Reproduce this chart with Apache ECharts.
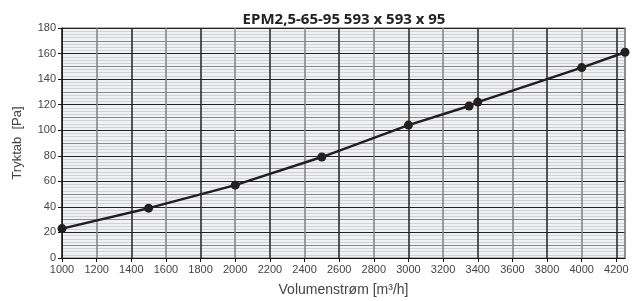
<!DOCTYPE html>
<html>
<head>
<meta charset="utf-8">
<script src="https://cdn.jsdelivr.net/npm/echarts@6/dist/echarts.min.js"></script>
<style>
  html, body { margin: 0; padding: 0; background: #fff; }
  #chart { width: 641px; height: 301px; }
</style>
</head>
<body>
<div id="chart"></div>
<script>
// volumenstrøm [m³/h] og tryktab [Pa]
const flow = [1000, 1500, 2000, 2500, 3000, 3350, 3400, 4000, 4250];
const pressure = [23, 39, 57, 79, 104, 119, 122, 149, 161];

const chart = echarts.init(document.getElementById("chart"));
const labelFont = { color: "#444", fontSize: 11, fontFamily: "Liberation Sans, Arial, sans-serif" };

chart.setOption({
  animation: false,
  title: {
    text: "EPM2,5-65-95 593 x 593 x 95",
    left: 339,
    textAlign: "center",
    top: 7,
    textStyle: { fontFamily: "Open Sans", fontWeight: "bold", fontSize: 15, color: "#222" }
  },
  grid: {
    left: 62, right: 16, top: 28, bottom: 43,
    outerBoundsMode: "none",
    show: true, backgroundColor: "#f0f1f3", borderColor: "#999", borderWidth: 1.5
  },
  xAxis: {
    type: "value",
    min: 1000, max: 4250, interval: 200,
    z: 8,
    name: "Volumenstrøm [m³/h]",
    nameLocation: "middle", nameGap: 25,
    nameTextStyle: { color: "#444", fontSize: 14, fontFamily: "Liberation Sans, Arial, sans-serif" },
    axisLine: { lineStyle: { color: "#111", width: 1 } },
    axisTick: { length: 4, lineStyle: { color: "#111" } },
    axisLabel: Object.assign({ margin: 6, showMaxLabel: false, formatter: v => String(v) }, labelFont),
    splitLine: { lineStyle: { color: ["#222", "#808080"], width: 1.5 } }
  },
  yAxis: [
    {
      type: "value",
      min: 0, max: 180, interval: 20,
      z: 5,
      name: "Tryktab  [Pa]",
      nameLocation: "middle", nameGap: 38,
      nameTextStyle: { color: "#444", fontSize: 13, fontFamily: "Liberation Sans, Arial, sans-serif" },
      axisLine: { show: true, lineStyle: { color: "#111", width: 1 } },
      axisTick: { show: true, length: 4, lineStyle: { color: "#111" } },
      axisLabel: Object.assign({ margin: 6, formatter: v => String(v) }, labelFont),
      splitLine: { lineStyle: { color: "#222", width: 1.2 } }
    },
    {
      type: "value",
      min: 0, max: 180, interval: 10,
      position: "left",
      z: 1,
      axisLine: { show: false },
      axisTick: { show: false },
      axisLabel: { show: false },
      splitLine: { lineStyle: { color: "#8a8a8a", width: 1.2 } },
      minorTick: { show: false, splitNumber: 4 },
      minorSplitLine: { show: true, lineStyle: { color: "#d2d2d2", width: 1 } }
    }
  ],
  series: [
    {
      type: "line",
      data: flow.map((f, i) => [f, pressure[i]]),
      yAxisIndex: 0,
      z: 10,
      symbol: "circle",
      symbolSize: 9,
      lineStyle: { color: "#231f20", width: 2.5 },
      itemStyle: { color: "#231f20" }
    }
  ]
});
</script>
</body>
</html>
